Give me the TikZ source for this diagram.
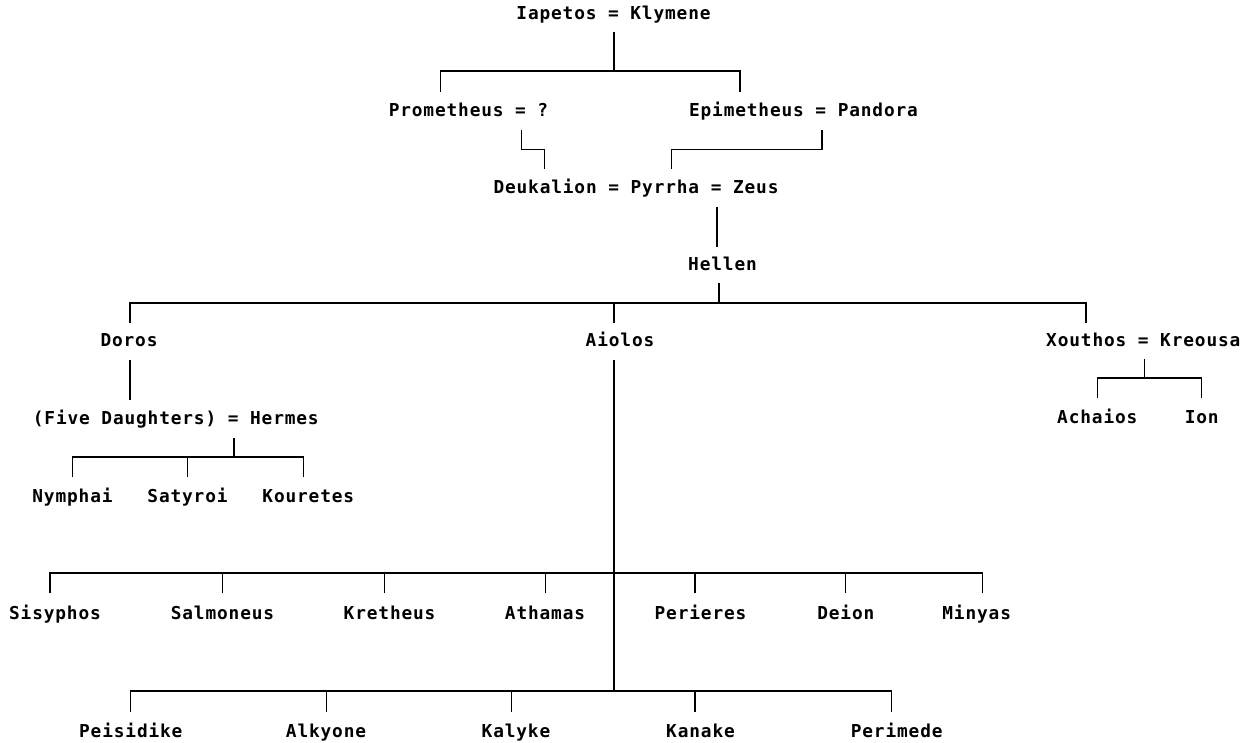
\documentclass[tikz,border=0pt]{standalone}
\usepackage{fontspec}
\usetikzlibrary{calc}
\newfontfamily\treefont[LetterSpace=4.8,UprightFont=* Bold]{DejaVu Sans Mono}
\begin{document}
\begin{tikzpicture}[x=1pt,y=-1pt,
  person/.style={anchor=base,inner sep=0pt,font=\treefont\fontsize{17.8}{20}\selectfont},
  link/.style={line width=1.1pt,black}]
\useasboundingbox (0,0) rectangle (1248,743);

% --- names ---
\node[person] (iap)   at (613.5,20)  {Iapetos = Klymene};
\node[person] (prom)  at (468.5,116.5) {Prometheus = ?};
\node[person] (epi)   at (803.5,116.5) {Epimetheus = Pandora};
\node[person] (deuk)  at (636,194)   {Deukalion = Pyrrha = Zeus};
\node[person] (hel)   at (722.5,270.5) {Hellen};
\node[person] (dor)   at (129,347)   {Doros};
\node[person] (aio)   at (620,347)   {Aiolos};
\node[person] (xou)   at (1143.3,347) {Xouthos = Kreousa};
\node[person] (five)  at (175.8,424) {(Five Daughters) = Hermes};
\node[person] (nym)   at (72.5,502)  {Nymphai};
\node[person] (sat)   at (187.5,502) {Satyroi};
\node[person] (kou)   at (308.3,502) {Kouretes};
\node[person] (ach)   at (1097.3,423) {Achaios};
\node[person] (ion)   at (1201.7,423) {Ion};
\node[person] (sis)   at (55,619)    {Sisyphos};
\node[person] (sal)   at (222.5,619) {Salmoneus};
\node[person] (kre)   at (389.6,619) {Kretheus};
\node[person] (ath)   at (545,619)   {Athamas};
\node[person] (per)   at (700.5,619) {Perieres};
\node[person] (dei)   at (845.8,619) {Deion};
\node[person] (min)   at (976.7,619) {Minyas};
\node[person] (pei)   at (130.8,737.5) {Peisidike};
\node[person] (alk)   at (326,737.5) {Alkyone};
\node[person] (kal)   at (516,737.5) {Kalyke};
\node[person] (kan)   at (700.5,737.5) {Kanake};
\node[person] (pem)   at (896.7,737.5) {Perimede};

% --- line end points ---
\coordinate (iapD) at (614,32);
\coordinate (iapJ) at (614,71);
\coordinate (promU) at (440.7,92);
\coordinate (epiU) at (740,92);
\coordinate (promD) at (521.7,130);
\coordinate (deukL) at (544.3,169);
\coordinate (epiD) at (822,130);
\coordinate (deukR) at (671.7,169);
\coordinate (zeusD) at (717,207);
\coordinate (helU) at (717,247);
\coordinate (helD) at (719,283);
\coordinate (helJ) at (719,303);
\coordinate (dorU) at (130,323);
\coordinate (aioU) at (614,323);
\coordinate (xouU) at (1086,323);
\coordinate (dorD) at (130,360);
\coordinate (fiveU) at (130,400);
\coordinate (herD) at (234,438);
\coordinate (herJ) at (234,457);
\coordinate (nymU) at (72.7,477);
\coordinate (satU) at (187.3,477);
\coordinate (kouU) at (303.3,477);
\coordinate (xouD) at (1144.3,359);
\coordinate (xouJ) at (1144.3,378);
\coordinate (achU) at (1097.7,398);
\coordinate (ionU) at (1201.7,398);
\coordinate (aioD) at (614,360);
\coordinate (aioJ) at (614,573);
\coordinate (aioE) at (614,691);
\coordinate (sisU) at (50,593);
\coordinate (salU) at (222.7,593);
\coordinate (kreU) at (384.3,593);
\coordinate (athU) at (545.7,593);
\coordinate (perU) at (695,593);
\coordinate (deiU) at (845.7,593);
\coordinate (minU) at (982.7,593);
\coordinate (peiU) at (130.7,711.7);
\coordinate (alkU) at (326.7,711.7);
\coordinate (kalU) at (511.7,711.7);
\coordinate (kanU) at (695,711.7);
\coordinate (pemU) at (891.7,711.7);

% --- connectors ---
\draw[link] (iapD) -- (iapJ);
\draw[link] (promU) |- (iapJ) -| (epiU);
\draw[link] (promD) |- ($(promD)!0.5!(deukL)$) -| (deukL);
\draw[link] (epiD) |- ($(epiD)!0.5!(deukR)$) -| (deukR);
\draw[link] (zeusD) -- (helU);
\draw[link] (helD) -- (helJ);
\draw[link] (dorU) |- (helJ) -| (xouU);
\draw[link] (aioU) -- (aioU |- helJ);
\draw[link] (dorD) -- (fiveU);
\draw[link] (herD) -- (herJ);
\draw[link] (nymU) |- (herJ) -| (kouU);
\draw[link] (satU) -- (satU |- herJ);
\draw[link] (xouD) -- (xouJ);
\draw[link] (achU) |- (xouJ) -| (ionU);
\draw[link] (aioD) -- (aioE);
\draw[link] (sisU) |- (aioJ) -| (minU);
\foreach \c in {salU,kreU,athU,perU,deiU}
  \draw[link] (\c) -- (\c |- aioJ);
\draw[link] (peiU) |- (aioE) -| (pemU);
\foreach \c in {alkU,kalU,kanU}
  \draw[link] (\c) -- (\c |- aioE);
\end{tikzpicture}
\end{document}
